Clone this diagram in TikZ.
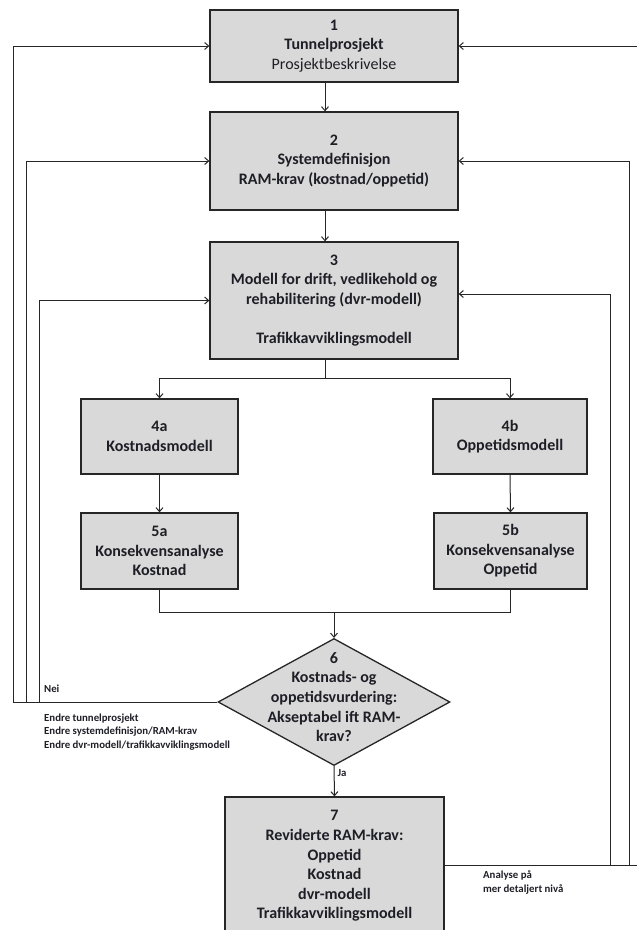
\documentclass[tikz,border=0pt]{standalone}
\usepackage{fontspec}
\setmainfont{Carlito}
\usetikzlibrary{arrows.meta,shapes.geometric}
\definecolor{boxfill}{RGB}{217,217,217}
\definecolor{ink}{RGB}{30,30,38}
\definecolor{edge}{RGB}{38,38,38}
\tikzset{
  box/.style={draw=edge, fill=boxfill, line width=1.3pt, rectangle, inner sep=0pt,
    align=center, text=ink, font=\bfseries\fontsize{16}{19.6}\selectfont},
  dia/.style={draw=edge, fill=boxfill, line width=1.3pt, diamond, inner sep=0pt,
    minimum width=232pt, minimum height=127pt},
  diatext/.style={align=center, text=ink, inner sep=0pt, font=\bfseries\fontsize{16}{19.6}\selectfont},
  lbl/.style={text=ink, inner sep=0pt, align=left, font=\bfseries\fontsize{10.8}{13.4}\selectfont},
  conn/.style={draw=edge, line width=1pt},
  arr/.style={conn, -{Straight Barb[length=4pt,width=7pt]}}
}
\begin{document}
\begin{tikzpicture}[x=1pt,y=-1pt]
\useasboundingbox (0,0) rectangle (637,930);

\node[box, minimum width=248pt, minimum height=72pt] (b1) at (334,46)
  {1\\Tunnelprosjekt\\{\mdseries Prosjektbeskrivelse}};
\node[box, minimum width=248pt, minimum height=98pt] (b2) at (334,161)
  {2\\Systemdefinisjon\\RAM-krav (kostnad/oppetid)};
\node[box, minimum width=248pt, minimum height=117pt] (b3) at (334,300.5)
  {3\\Modell for drift, vedlikehold og\\rehabilitering (dvr-modell)\\[19.6pt]Trafikkavviklingsmodell};
\node[box, minimum width=157pt, minimum height=75pt] (b4a) at (159.5,436.5)
  {4a\\Kostnadsmodell};
\node[box, minimum width=154pt, minimum height=75pt] (b4b) at (510,436.5)
  {4b\\Oppetidsmodell};
\node[box, minimum width=157pt, minimum height=76pt] (b5a) at (159.5,551)
  {5a\\Konsekvensanalyse\\Kostnad};
\node[box, minimum width=153pt, minimum height=76pt] (b5b) at (510.5,551)
  {5b\\Konsekvensanalyse\\Oppetid};
\node[dia] (d6) at (334,702) {};
\node[diatext] (t6) at (334,697)
  {6\\Kostnads- og\\oppetidsvurdering:\\Akseptabel ift RAM-\\krav?};
\node[box, minimum width=219pt, minimum height=138pt] (b7) at (334.5,866)
  {7\\Reviderte RAM-krav:\\Oppetid\\Kostnad\\dvr-modell\\Trafikkavviklingsmodell};

% helper coordinates
\coordinate (cx) at (325,0);
\coordinate (br) at (325,378);
\coordinate (mg) at (334,612);
\coordinate (L1) at (13,46);
\coordinate (L2) at (26.4,161);
\coordinate (L3) at (39.4,300.5);
\coordinate (R1) at (638,46);
\coordinate (R2) at (629,161);
\coordinate (R3) at (610,294);

% main flow
\draw[arr] (b1.south -| cx) -- (b2.north -| cx);
\draw[arr] (b2.south -| cx) -- (b3.north -| cx);
\draw[arr] (b3.south -| cx) -- (br) -| (b4a.north);
\draw[arr] (br) -| (b4b.north);
\draw[arr] (b4a.south) -- (b5a.north);
\draw[arr] (b4b.south) -- (b5b.north);
\draw[conn] (b5a.south) -- (b5a.south |- mg) -- (b5b.south |- mg) -- (b5b.south);
\draw[arr] (mg) -- (d6.north);
\draw[arr] (d6.south) -- (b7.north)
  node[lbl, pos=0.22, anchor=west, xshift=3pt] (ja) {Ja};

% left feedback loops
\draw[arr] (d6.west) -| (L1) -- (b1.west);
\draw[arr] (L2 |- d6.west) -- (L2) -- (b2.west);
\draw[arr] (L3 |- d6.west) -- (L3) -- (b3.west);

% right feedback loops
\draw[arr] (b7.east |- 0,865) -| (R1) -- (b1.east);
\draw[arr] (R2 |- 0,865) -- (R2) -- (b2.east);
\draw[arr] (R3 |- 0,865) -- (R3) -- (b3.east |- R3);

% labels
\node[lbl, anchor=west] (nei) at (44,689) {Nei};
\node[lbl, anchor=west] (endre) at (44,732)
  {Endre tunnelprosjekt\\Endre systemdefinisjon/RAM-krav\\Endre dvr-modell/trafikkavviklingsmodell};
\node[lbl, anchor=west] (analyse) at (483,882.5)
  {Analyse på\\mer detaljert nivå};
\end{tikzpicture}
\end{document}
